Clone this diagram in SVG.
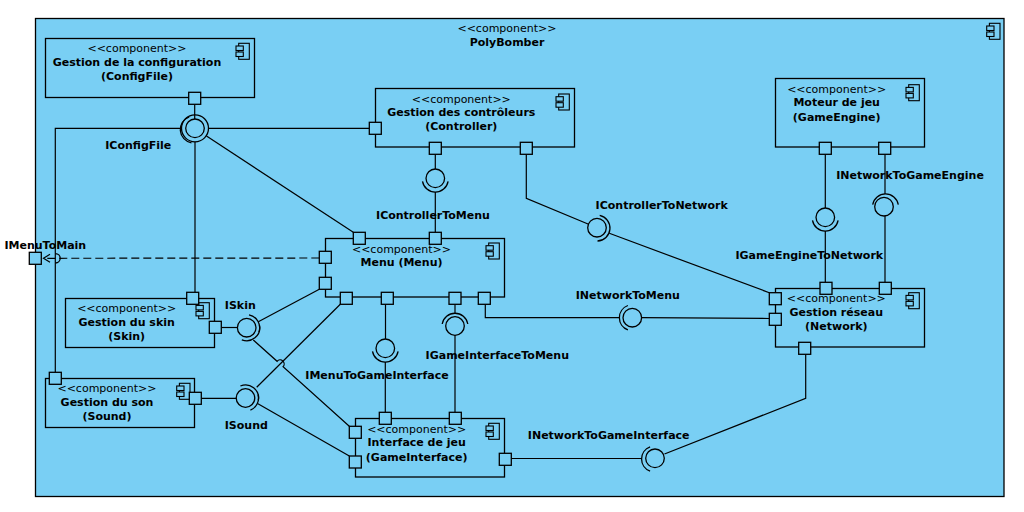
<svg xmlns="http://www.w3.org/2000/svg" xmlns:xlink="http://www.w3.org/1999/xlink" width="1024" height="512" viewBox="0 0 1024 512">
<style>
.box{fill:#79CFF4;stroke:#000;stroke-width:1.3}
.port{fill:#79CFF4;stroke:#000;stroke-width:1.3}
.ic{fill:#79CFF4;stroke:#000;stroke-width:1.1}
.ln{fill:none;stroke:#000;stroke-width:1.2}
.dash{fill:none;stroke:#000;stroke-width:1.2;stroke-dasharray:8 4}
.ball{fill:none;stroke:#000;stroke-width:1.3}
.sock{fill:none;stroke:#000;stroke-width:1.3}
text{font-family:"DejaVu Sans","Liberation Sans",sans-serif;font-size:11px;text-anchor:middle;fill:#000}
.b{font-weight:bold}
</style>
<defs>
<g id="cicon">
<rect x="2.7" y="0" width="10.6" height="16" class="ic"/>
<rect x="0" y="2.7" width="7.3" height="4.5" class="ic"/>
<rect x="0" y="8.7" width="7.3" height="4.5" class="ic"/>
</g>
</defs>
<rect width="1024" height="512" fill="#fff"/>
<g id="PolyBomber">
<rect x="35.5" y="18.5" width="968.5" height="478" class="box"/>
<text x="507" y="32">&lt;&lt;component&gt;&gt;</text>
<text x="507" y="46" class="b">PolyBomber</text>
<use href="#cicon" x="986.7" y="23.3"/>
</g>
<g id="connectors">
<path class="ln" d="M194.7,104.3 V119"/>
<path class="ln" d="M181.5,128.3 H55.3 V372.3"/>
<path class="ln" d="M208.5,128.3 H369.3"/>
<path class="ln" d="M195,141.8 V292.3"/>
<path class="ln" d="M206.5,136 L353.3,232.3"/>
<path class="ln" d="M435.3,154.3 V169"/>
<path class="ln" d="M435.3,192 V232.3"/>
<path class="ln" d="M526.3,154.3 V198.3 L588,224"/>
<path class="ln" d="M609.3,233.3 L769.3,292.7"/>
<path class="ln" d="M485.3,304.3 V317.7 H619.3"/>
<path class="ln" d="M641.8,317.7 L769.3,318.5"/>
<path class="ln" d="M825.3,154.3 V208"/>
<path class="ln" d="M825.3,231 V282.3"/>
<path class="ln" d="M885,154.3 V194"/>
<path class="ln" d="M885,216 V282.3"/>
<path class="ln" d="M385.5,304.3 V339"/>
<path class="ln" d="M385.3,362 V412.3"/>
<path class="ln" d="M455,304.3 V313.3"/>
<path class="ln" d="M455,335.3 V412.3"/>
<path class="ln" d="M511.3,458.5 H641.5"/>
<path class="ln" d="M664.5,454 L805.7,398.3 V354.3"/>
<path class="ln" d="M221.3,327.5 H237.4"/>
<path class="ln" d="M258.3,321.7 L319.3,289.3"/>
<path class="ln" d="M253.3,340 L277.1,361.3 A4,4 0 0 1 283.1,366.7 L349.3,426.3"/>
<path class="ln" d="M201.3,398.3 H236.2"/>
<path class="ln" d="M256.7,387.3 L340.3,304.3"/>
<path class="ln" d="M257.5,403.5 L349.3,456"/>
<path class="dash" d="M319.3,258 L43.5,258.3"/>
<path class="ln" d="M50,254.3 L43.5,258.3 L50,262.3"/>
</g>
<g id="interfaces">
<g id="IConfigFile">
<circle cx="195" cy="128.3" r="9.3" class="ball"/>
<circle cx="195" cy="128.3" r="13.5" class="sock"/>
<path class="sock" d="M191.5,142.8 A13.5,13.5 0 0 1 189.2,116.8"/>
<text x="138.3" y="149.3" class="b">IConfigFile</text>
</g>
<g id="IControllerToMenu">
<circle cx="435.3" cy="178.3" r="9.3" class="ball"/>
<path class="sock" d="M448.1,181.3 A13,13 0 0 1 422.5,181.3"/>
<text x="433" y="219" class="b">IControllerToMenu</text>
</g>
<g id="IControllerToNetwork">
<circle cx="597" cy="227.7" r="9.3" class="ball"/>
<path class="sock" d="M599.7,215.3 A13,13 0 0 1 597.5,241"/>
<text x="661.7" y="209" class="b">IControllerToNetwork</text>
</g>
<g id="INetworkToMenu">
<circle cx="632.3" cy="317.7" r="9.3" class="ball"/>
<path class="sock" d="M627.9,305.5 A13,13 0 0 0 627.9,329.9"/>
<text x="627.8" y="299" class="b">INetworkToMenu</text>
</g>
<g id="IGameEngineToNetwork">
<circle cx="825.3" cy="217.3" r="9.3" class="ball"/>
<path class="sock" d="M838.1,220.3 A13,13 0 0 1 812.5,220.3"/>
<text x="809.3" y="259" class="b">IGameEngineToNetwork</text>
</g>
<g id="INetworkToGameEngine">
<circle cx="884" cy="206.7" r="9.3" class="ball"/>
<path class="sock" d="M872.7,204.7 A13,13 0 0 1 898.3,204.7"/>
<text x="910" y="179" class="b">INetworkToGameEngine</text>
</g>
<g id="IMenuToGameInterface">
<circle cx="385.3" cy="348.3" r="9.3" class="ball"/>
<path class="sock" d="M398.1,351.3 A13,13 0 0 1 372.5,351.3"/>
<text x="377" y="379" class="b">IMenuToGameInterface</text>
</g>
<g id="IGameInterfaceToMenu">
<circle cx="455" cy="326" r="9.3" class="ball"/>
<path class="sock" d="M442.2,324 A13,13 0 0 1 467.8,324"/>
<text x="497.3" y="359.3" class="b">IGameInterfaceToMenu</text>
</g>
<g id="INetworkToGameInterface">
<circle cx="655" cy="458.3" r="9.3" class="ball"/>
<path class="sock" d="M650.1,446.8 A13,13 0 0 0 650.1,471.2"/>
<text x="608.7" y="439.3" class="b">INetworkToGameInterface</text>
</g>
<g id="ISkin">
<circle cx="246.7" cy="327.7" r="9.3" class="ball"/>
<path class="sock" d="M249,314.9 A13,13 0 0 1 258.9,332.1"/>
<path class="sock" d="M259.5,325.4 A13,13 0 0 1 241.8,339.8"/>
<text x="240.3" y="309.3" class="b">ISkin</text>
</g>
<g id="ISound">
<circle cx="245.5" cy="398" r="9.3" class="ball"/>
<path class="sock" d="M240.4,386 A13,13 0 0 1 258.3,400.3"/>
<path class="sock" d="M258.1,394.6 A13,13 0 0 1 250.4,410.1"/>
<text x="246.3" y="429" class="b">ISound</text>
</g>
<g id="IMenuToMain">
<path class="sock" d="M55.5,253.6 A4.7,4.7 0 0 1 55.5,263"/>
<rect x="29.3" y="252.3" width="12" height="12" class="port"/>
<text x="45.3" y="249.3" class="b">IMenuToMain</text>
</g>
</g>
<g id="ConfigFile">
<rect x="45.5" y="38.5" width="209" height="59" class="box"/>
<text x="137" y="52.3">&lt;&lt;component&gt;&gt;</text>
<text x="137" y="66.3" class="b">Gestion de la configuration</text>
<text x="137" y="80.3" class="b">(ConfigFile)</text>
<use href="#cicon" x="236" y="43.3"/>
<rect x="188.7" y="92.3" width="12" height="12" class="port"/>
</g>
<g id="Controller">
<rect x="375.5" y="88.5" width="199" height="58.5" class="box"/>
<text x="461.3" y="102.7">&lt;&lt;component&gt;&gt;</text>
<text x="461.3" y="116" class="b">Gestion des contrôleurs</text>
<text x="461.3" y="130" class="b">(Controller)</text>
<use href="#cicon" x="556" y="94"/>
<rect x="369.3" y="122.3" width="12" height="12" class="port"/>
<rect x="429.3" y="142.3" width="12" height="12" class="port"/>
<rect x="520.3" y="142.3" width="12" height="12" class="port"/>
</g>
<g id="GameEngine">
<rect x="775.5" y="78.5" width="149" height="68.5" class="box"/>
<text x="836.7" y="92.7">&lt;&lt;component&gt;&gt;</text>
<text x="836.7" y="106" class="b">Moteur de jeu</text>
<text x="836.7" y="120.7" class="b">(GameEngine)</text>
<use href="#cicon" x="906" y="84.7"/>
<rect x="819.3" y="142.3" width="12" height="12" class="port"/>
<rect x="878.7" y="142.3" width="12" height="12" class="port"/>
</g>
<g id="Menu">
<rect x="325.5" y="238.5" width="179" height="58.5" class="box"/>
<text x="401.5" y="253">&lt;&lt;component&gt;&gt;</text>
<text x="401.5" y="266" class="b">Menu (Menu)</text>
<use href="#cicon" x="486" y="243"/>
<rect x="353.3" y="232.3" width="12" height="12" class="port"/>
<rect x="429.3" y="232.3" width="12" height="12" class="port"/>
<rect x="319.3" y="251.3" width="12" height="12" class="port"/>
<rect x="319.3" y="277.3" width="12" height="12" class="port"/>
<rect x="340.3" y="292.3" width="12" height="12" class="port"/>
<rect x="381.3" y="292.3" width="12" height="12" class="port"/>
<rect x="449" y="292.3" width="12" height="12" class="port"/>
<rect x="478.3" y="292.3" width="12" height="12" class="port"/>
</g>
<g id="Skin">
<rect x="65.5" y="298.5" width="149" height="49" class="box"/>
<text x="126.7" y="312">&lt;&lt;component&gt;&gt;</text>
<text x="126.7" y="326" class="b">Gestion du skin</text>
<text x="126.7" y="340" class="b">(Skin)</text>
<use href="#cicon" x="196" y="302.7"/>
<rect x="186.7" y="292.3" width="12" height="12" class="port"/>
<rect x="209.3" y="321.3" width="12" height="12" class="port"/>
</g>
<g id="Sound">
<rect x="45.5" y="378.5" width="149" height="49" class="box"/>
<text x="107" y="392.3">&lt;&lt;component&gt;&gt;</text>
<text x="107" y="406.3" class="b">Gestion du son</text>
<text x="107" y="420.3" class="b">(Sound)</text>
<use href="#cicon" x="176.7" y="383.3"/>
<rect x="49.3" y="372.3" width="12" height="12" class="port"/>
<rect x="189.3" y="392.3" width="12" height="12" class="port"/>
</g>
<g id="Network">
<rect x="775.5" y="288.5" width="149" height="58.5" class="box"/>
<text x="836.3" y="302.3">&lt;&lt;component&gt;&gt;</text>
<text x="836.3" y="316.3" class="b">Gestion réseau</text>
<text x="836.3" y="330" class="b">(Network)</text>
<use href="#cicon" x="906" y="292.7"/>
<rect x="769.3" y="292.7" width="12" height="12" class="port"/>
<rect x="769.3" y="313.3" width="12" height="12" class="port"/>
<rect x="820" y="282.3" width="12" height="12" class="port"/>
<rect x="879.3" y="282.3" width="12" height="12" class="port"/>
<rect x="798.7" y="342.3" width="12" height="12" class="port"/>
</g>
<g id="GameInterface">
<rect x="355.5" y="418.5" width="149" height="58.5" class="box"/>
<text x="416.7" y="432.7">&lt;&lt;component&gt;&gt;</text>
<text x="416.7" y="446.3" class="b">Interface de jeu</text>
<text x="416.7" y="460.7" class="b">(GameInterface)</text>
<use href="#cicon" x="486" y="423.3"/>
<rect x="379.3" y="412.3" width="12" height="12" class="port"/>
<rect x="449.3" y="412.3" width="12" height="12" class="port"/>
<rect x="349.3" y="426.3" width="12" height="12" class="port"/>
<rect x="349.3" y="456" width="12" height="12" class="port"/>
<rect x="499.3" y="453.3" width="12" height="12" class="port"/>
</g>
</svg>
